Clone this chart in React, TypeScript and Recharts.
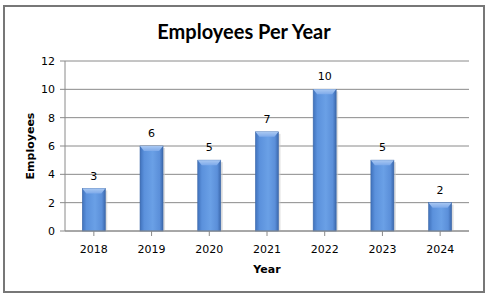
import React from "react";
import { BarChart, Bar, XAxis, YAxis, CartesianGrid, LabelList } from "recharts";

const years = ["2018", "2019", "2020", "2021", "2022", "2023", "2024"];
const employees = [3, 6, 5, 7, 10, 5, 2];
const yTicks = [0, 2, 4, 6, 8, 10, 12];

const data = years.map((year, i) => ({ year, employees: employees[i] }));

const tickFont = { fontFamily: "DejaVu Sans", fontSize: 11, fill: "#000" };

// bar with an Excel-like bevel: side shading plus a lighter cap on top
const BevelBar = (props: any) => {
  const { x, y, width, height } = props;
  if (!height || height <= 0) return null;
  const cap = 5;
  return (
    <g>
      <rect x={x + 2} y={y + 2} width={width} height={height - 2} fill="#c9c9c9" opacity={0.6} />
      <rect x={x} y={y} width={width} height={height} fill="url(#barFill)" stroke="#3d68a8" strokeWidth={0.6} />
      <polygon
        points={`${x},${y} ${x + width},${y} ${x + width - 4},${y + cap} ${x + 4},${y + cap}`}
        fill="url(#capFill)"
      />
    </g>
  );
};

export default function App() {
  return (
    <div style={{ position: "fixed", left: 0, top: 0, width: 488, height: 298, background: "#fff" }}>
      <div
        style={{
          position: "absolute",
          left: 3,
          top: 5,
          width: 478,
          height: 284,
          border: "2px solid #777",
          background: "#fff",
        }}
      />
      <div
        style={{
          position: "absolute",
          left: 0,
          top: 17,
          width: 488,
          textAlign: "center",
          fontFamily: "Lato",
          fontWeight: 700,
          fontSize: 20,
          lineHeight: "28px",
          color: "#000",
        }}
      >
        Employees Per Year
      </div>
      <div style={{ position: "absolute", left: 0, top: 0 }}>
        <BarChart
          width={488}
          height={298}
          data={data}
          margin={{ top: 61, right: 19, left: 0, bottom: 17 }}
          barCategoryGap="30%"
        >
          <defs>
            <linearGradient id="barFill" x1="0" y1="0" x2="1" y2="0">
              <stop offset="0%" stopColor="#4072bc" />
              <stop offset="18%" stopColor="#5b91dc" />
              <stop offset="55%" stopColor="#6aa0e6" />
              <stop offset="85%" stopColor="#5b8fd9" />
              <stop offset="100%" stopColor="#3b68ad" />
            </linearGradient>
            <linearGradient id="capFill" x1="0" y1="0" x2="0" y2="1">
              <stop offset="0%" stopColor="#a9c8f2" />
              <stop offset="100%" stopColor="#7eaaea" />
            </linearGradient>
          </defs>
          <CartesianGrid vertical={false} stroke="#8a8a8a" strokeWidth={1} />
          <XAxis
            dataKey="year"
            height={50}
            stroke="#8a8a8a"
            tickSize={5}
            tickMargin={9}
            tick={tickFont}
            interval={0}
            label={{
              value: "Year",
              position: "insideBottom",
              offset: 8,
              style: { fontFamily: "DejaVu Sans", fontSize: 11, fontWeight: 700, fill: "#000" },
            }}
          />
          <YAxis
            width={65}
            domain={[0, 12]}
            ticks={yTicks}
            interval={0}
            stroke="#8a8a8a"
            tickSize={5}
            tickMargin={5}
            tick={tickFont}
            label={{
              value: "Employees",
              angle: -90,
              position: "insideLeft",
              offset: 30,
              style: {
                fontFamily: "DejaVu Sans",
                fontSize: 11,
                fontWeight: 700,
                fill: "#000",
                textAnchor: "middle",
              },
            }}
          />
          <Bar dataKey="employees" shape={BevelBar} isAnimationActive={false}>
            <LabelList
              dataKey="employees"
              position="top"
              offset={9}
              style={{ fontFamily: "DejaVu Sans", fontSize: 11, fill: "#000" }}
            />
          </Bar>
        </BarChart>
      </div>
    </div>
  );
}
